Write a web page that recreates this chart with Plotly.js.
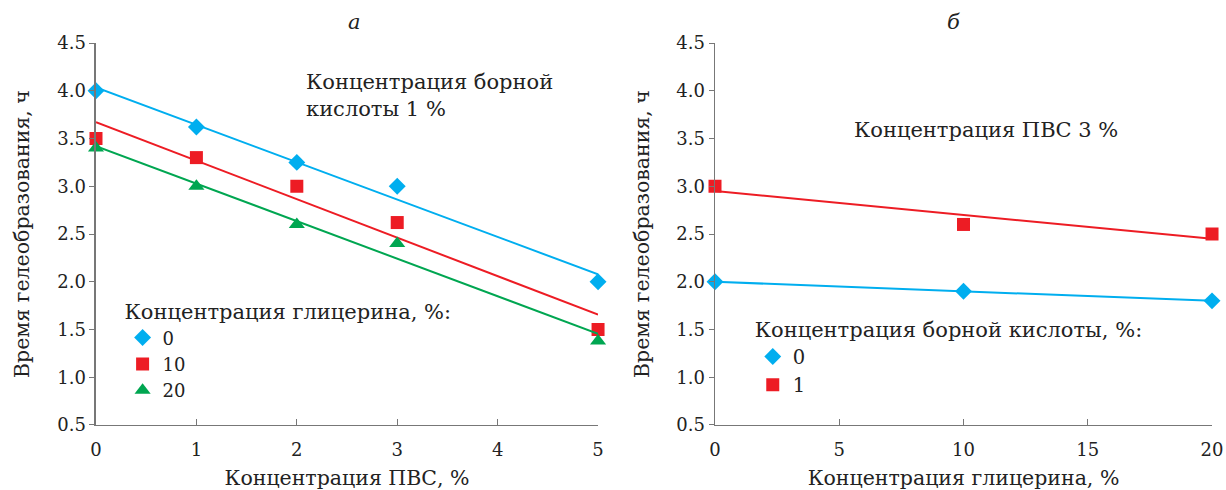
<!DOCTYPE html>
<html><head><meta charset="utf-8">
<script src="https://cdn.plot.ly/plotly-3.0.1.min.js"></script>
<style>body{margin:0;background:#fff}#c{width:1226px;height:490px}</style>
</head><body><div id="c"></div>
<script>
// Panel a: gel time vs PVA concentration, boric acid 1 %
const pvaConc = [0, 1, 2, 3, 5];
const glyc0 = [4.0, 3.62, 3.25, 3.0, 2.0];
const glyc10 = [3.5, 3.3, 3.0, 2.62, 1.5];
const glyc20 = [3.4, 3.0, 2.6, 2.4, 1.38];
const glycLabels = ['0', '10', '20'];
// Panel б: gel time vs glycerin concentration, PVA 3 %
const glycConc = [0, 10, 20];
const boric0 = [2.0, 1.9, 1.8];
const boric1 = [3.0, 2.6, 2.5];
const boricLabels = ['0', '1'];

const BLUE = '#00aeef', RED = '#ed1c24', GREEN = '#00a651';
const FONT = '"DejaVu Serif", "Liberation Serif", serif';
const TXT = '#222';

function fit(x, y) {
  const n = x.length;
  const mx = x.reduce((a, b) => a + b) / n, my = y.reduce((a, b) => a + b) / n;
  let sxy = 0, sxx = 0;
  for (let i = 0; i < n; i++) { sxy += (x[i] - mx) * (y[i] - my); sxx += (x[i] - mx) ** 2; }
  const k = sxy / sxx, b = my - k * mx;
  const xs = [Math.min(...x), Math.max(...x)];
  return { x: xs, y: xs.map(v => k * v + b) };
}

const traces = [];
function add(x, y, color, symbol, size, name, xa, ya, leg) {
  const f = fit(x, y);
  traces.push({ x: f.x, y: f.y, mode: 'lines', line: { color: color, width: 2 }, xaxis: xa, yaxis: ya, showlegend: false, hoverinfo: 'skip', cliponaxis: false });
  traces.push({ x: x, y: y, mode: 'markers', name: name, marker: { color: color, symbol: symbol, size: size }, xaxis: xa, yaxis: ya, legend: leg, cliponaxis: false });
}
add(pvaConc, glyc0, BLUE, 'diamond', 13, glycLabels[0], 'x', 'y', 'legend');
add(pvaConc, glyc10, RED, 'square', 13, glycLabels[1], 'x', 'y', 'legend');
add(pvaConc, glyc20, GREEN, 'triangle-up', 14, glycLabels[2], 'x', 'y', 'legend');
add(glycConc, boric0, BLUE, 'diamond', 13, boricLabels[0], 'x2', 'y2', 'legend2');
add(glycConc, boric1, RED, 'square', 13, boricLabels[1], 'x2', 'y2', 'legend2');

const axFont = { family: FONT, size: 18, color: TXT };
const tFont = { family: FONT, size: 20.5, color: TXT };
const aFont = { family: FONT, size: 21, color: TXT };
const iFont = { family: FONT, size: 18, color: TXT };
const iFont2 = { family: FONT, size: 19.5, color: TXT };
const baseX = { showgrid: false, zeroline: false, showline: true, linecolor: '#777', linewidth: 1.5, ticks: 'inside', ticklen: 6, tickcolor: '#777', tickfont: axFont, ticklabelstandoff: 8 };
const baseY = { showgrid: false, zeroline: false, showline: true, linecolor: '#777', linewidth: 1.5, ticks: 'outside', ticklen: 5, tickcolor: '#777', tickfont: axFont, range: [0.5, 4.5], dtick: 0.5, tickformat: '.1f' };
const yTitleText = 'Время гелеобразования, ч';

const layout = {
  width: 1226, height: 490,
  margin: { l: 0, r: 0, t: 0, b: 0 },
  paper_bgcolor: '#fff', plot_bgcolor: '#fff',
  font: { family: FONT, size: 18, color: TXT },
  xaxis: Object.assign({}, baseX, { domain: [0.0783, 0.4878], range: [0, 5], dtick: 1, anchor: 'y',
    title: { text: 'Концентрация ПВС, %', font: tFont, standoff: 11 } }),
  yaxis: Object.assign({}, baseY, { domain: [0.1327, 0.9122], anchor: 'x' }),
  xaxis2: Object.assign({}, baseX, { domain: [0.5832, 0.9886], range: [0, 20], dtick: 5, anchor: 'y2',
    title: { text: 'Концентрация глицерина, %', font: tFont, standoff: 11 } }),
  yaxis2: Object.assign({}, baseY, { domain: [0.1327, 0.9122], anchor: 'x2' }),
  legend: { x: 0.1, y: 1 - 292 / 490, xanchor: 'left', yanchor: 'top', bgcolor: 'rgba(0,0,0,0)',
    title: { text: 'Концентрация глицерина, %:', font: aFont }, font: iFont, tracegroupgap: 0, itemwidth: 30 },
  legend2: { x: 0.614, y: 1 - 310 / 490, xanchor: 'left', yanchor: 'top', bgcolor: 'rgba(0,0,0,0)',
    title: { text: 'Концентрация борной кислоты, %:', font: aFont }, font: iFont2, tracegroupgap: 0, itemwidth: 30 },
  annotations: [
    { text: '<i>а</i>', xref: 'paper', yref: 'paper', x: 346 / 1226, y: 1 - 22 / 490, yanchor: 'middle', showarrow: false, font: aFont },
    { text: '<i>б</i>', xref: 'paper', yref: 'paper', x: 962 / 1226, y: 1 - 22 / 490, yanchor: 'middle', showarrow: false, font: aFont },
    { text: 'Концентрация борной<br>кислоты 1 %', xref: 'paper', yref: 'paper', x: 304 / 1226, y: 1 - 68 / 490, xanchor: 'left', yanchor: 'top', align: 'left', showarrow: false, font: aFont },
    { text: 'Концентрация ПВС 3 %', xref: 'paper', yref: 'paper', x: 852 / 1226, y: 1 - 130 / 490, xanchor: 'left', yanchor: 'middle', showarrow: false, font: aFont },
    { text: yTitleText, textangle: -90, xref: 'paper', yref: 'paper', x: 22 / 1226, y: 1 - 234 / 490, xanchor: 'center', yanchor: 'middle', showarrow: false, font: tFont },
    { text: yTitleText, textangle: -90, xref: 'paper', yref: 'paper', x: 642 / 1226, y: 1 - 234 / 490, xanchor: 'center', yanchor: 'middle', showarrow: false, font: tFont }
  ]
};
Plotly.newPlot('c', traces, layout, { displayModeBar: false, staticPlot: true });
</script></body></html>
